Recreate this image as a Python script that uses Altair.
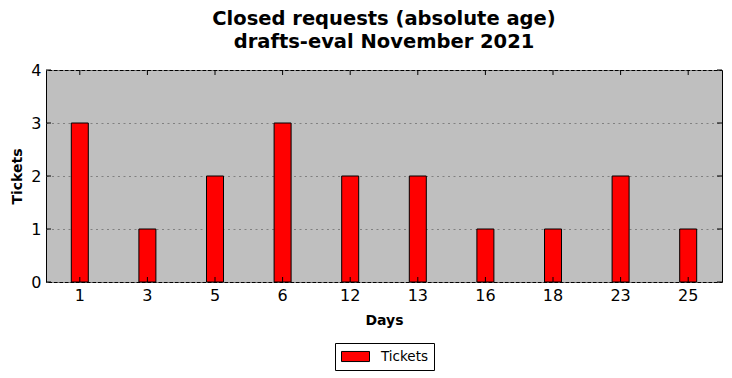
import altair as alt
import pandas as pd

days = ["1", "3", "5", "6", "12", "13", "16", "18", "23", "25"]
tickets = [3, 1, 2, 3, 2, 2, 1, 1, 2, 1]
y_ticks = [0, 1, 2, 3, 4]
series = "Tickets"

df = pd.DataFrame({"day": days, "tickets": tickets, "series": [series] * len(days)})
yt = pd.DataFrame({"v": y_ticks})

W, H = 676, 212
FONT = "DejaVu Sans"
xscale = alt.Scale(domain=days, paddingInner=0, paddingOuter=0)
yscale = alt.Scale(domain=[0, 4], nice=False, zero=True)

bars = alt.Chart(df).mark_bar(size=17, stroke="black", strokeWidth=1).encode(
    x=alt.X("day:N", sort=days, scale=xscale,
            axis=alt.Axis(title="Days", labelAngle=0, ticks=False, domain=False,
                          labelFontSize=16, labelColor="black", labelPadding=5,
                          titleFontSize=14, titleFontWeight="bold", titleColor="black",
                          titlePadding=10, labelFont=FONT, titleFont=FONT)),
    y=alt.Y("tickets:Q", scale=yscale,
            axis=alt.Axis(title="Tickets", values=y_ticks, format="d", grid=True, ticks=False,
                          domain=False, gridColor="#808080", gridDash=[2, 3.5], gridWidth=1,
                          labelFontSize=16, labelColor="black", labelPadding=5,
                          titleFontSize=14, titleFontWeight="bold", titleColor="black",
                          titlePadding=6, labelFont=FONT, titleFont=FONT)),
    color=alt.Color("series:N", scale=alt.Scale(domain=[series], range=["#ff0000"]),
                    legend=alt.Legend(title=None, orient="none", legendX=289, legendY=273,
                                      strokeColor="black", padding=6, cornerRadius=0,
                                      labelFontSize=13.5, labelFont=FONT, labelColor="black",
                                      labelOffset=18, symbolOffset=7,
                                      symbolType="M-2,-0.72L2,-0.72L2,0.72L-2,0.72Z",
                                      symbolSize=196, symbolStrokeColor="black",
                                      symbolStrokeWidth=1, symbolOpacity=1)),
)

xtick_b = alt.Chart(df).mark_rule(color="black", strokeWidth=1).encode(
    x=alt.X("day:N", sort=days, scale=xscale, bandPosition=0.5),
    y=alt.value(H), y2=alt.value(H - 5))
xtick_t = alt.Chart(df).mark_rule(color="black", strokeWidth=1).encode(
    x=alt.X("day:N", sort=days, scale=xscale, bandPosition=0.5),
    y=alt.value(0), y2=alt.value(5))
ytick_l = alt.Chart(yt).mark_rule(color="black", strokeWidth=1).encode(
    y=alt.Y("v:Q", scale=yscale), x=alt.value(0), x2=alt.value(5))
ytick_r = alt.Chart(yt).mark_rule(color="black", strokeWidth=1).encode(
    y=alt.Y("v:Q", scale=yscale), x=alt.value(W - 5), x2=alt.value(W))

chart = alt.layer(bars, xtick_b, xtick_t, ytick_l, ytick_r).properties(
    width=W, height=H,
    title=alt.TitleParams(["Closed requests (absolute age)", "drafts-eval November 2021"],
                          fontSize=19.5, fontWeight="bold", font=FONT, color="black",
                          anchor="middle", lineHeight=23, offset=10),
    autosize=alt.AutoSizeParams(type="none"),
    padding={"left": 38, "top": 62, "right": 2, "bottom": 100},
    background="white",
).configure_view(stroke="black", strokeWidth=1, fill="#bfbfbf")

chart.save("out.html", embed_options={"renderer": "svg", "actions": False})
